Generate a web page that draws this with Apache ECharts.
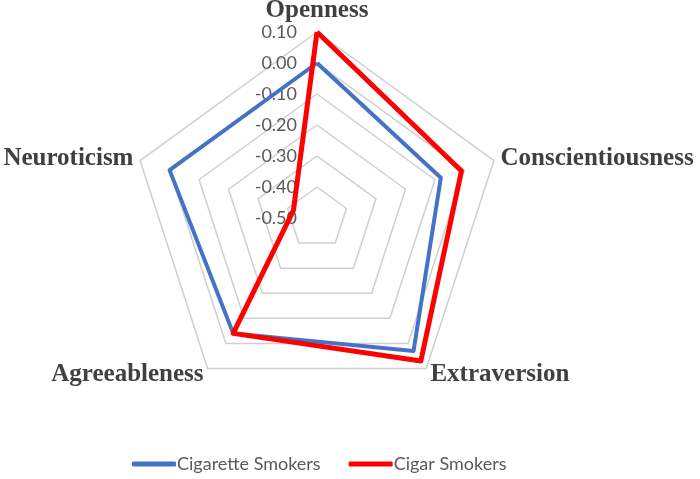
<!DOCTYPE html>
<html>
<head>
<meta charset="utf-8">
<script src="https://cdn.jsdelivr.net/npm/echarts@6/dist/echarts.min.js"></script>
<style>
  html, body { margin: 0; padding: 0; background: #fff; }
  #chart { width: 700px; height: 479px; }
</style>
</head>
<body>
<div id="chart"></div>
<script>
// traits, counter-clockwise from the top (echarts radar order)
const traits = ['Openness', 'Neuroticism', 'Agreeableness', 'Extraversion', 'Conscientiousness'];
const cigaretteSmokers = [0.00, 0.00, -0.04, 0.03, -0.08];
const cigarSmokers = [0.10, -0.42, -0.04, 0.07, -0.01];
const seriesNames = ['Cigarette Smokers', 'Cigar Smokers'];
const axisMin = -0.5;
const axisMax = 0.1;

const chart = echarts.init(document.getElementById('chart'));

const indicator = traits.map((name, i) => ({
  name,
  min: axisMin,
  max: axisMax,
  // only the first (top) axis carries tick labels
  axisLabel: { show: i === 0 }
}));

// avoid "-0.00" from floating point ticks
function tickText(v) {
  const s = v.toFixed(2);
  return s === '-0.00' ? '0.00' : s;
}

chart.setOption({
  animation: false,
  legend: {
    bottom: 1,
    left: 127,
    icon: 'roundRect',
    itemWidth: 44,
    itemHeight: 5,
    itemGap: 28,
    textStyle: { fontFamily: 'Lato', fontSize: 18, color: '#595959', padding: [0, 0, 0, -4] },
    data: seriesNames
  },
  radar: {
    center: [317, 218],
    radius: 186,
    startAngle: 90,
    splitNumber: 6,
    shape: 'polygon',
    indicator,
    axisName: {
      fontFamily: 'Liberation Serif',
      fontWeight: 'bold',
      fontSize: 25,
      color: '#404040'
    },
    nameGap: 7,
    axisLine: { show: false },
    axisTick: { show: false },
    splitArea: { show: false },
    splitLine: { lineStyle: { color: '#CFCFCF', width: 1.5 } },
    axisLabel: {
      show: false,
      fontFamily: 'Lato',
      fontSize: 18,
      color: '#595959',
      margin: 20,
      formatter: tickText
    }
  },
  series: [{
    type: 'radar',
    symbol: 'none',
    data: [
      {
        name: seriesNames[0],
        value: cigaretteSmokers,
        lineStyle: { color: '#4472C4', width: 4 },
        itemStyle: { color: '#4472C4' }
      },
      {
        name: seriesNames[1],
        value: cigarSmokers,
        lineStyle: { color: '#FF0000', width: 5 },
        itemStyle: { color: '#FF0000' }
      }
    ]
  }]
});
</script>
</body>
</html>
